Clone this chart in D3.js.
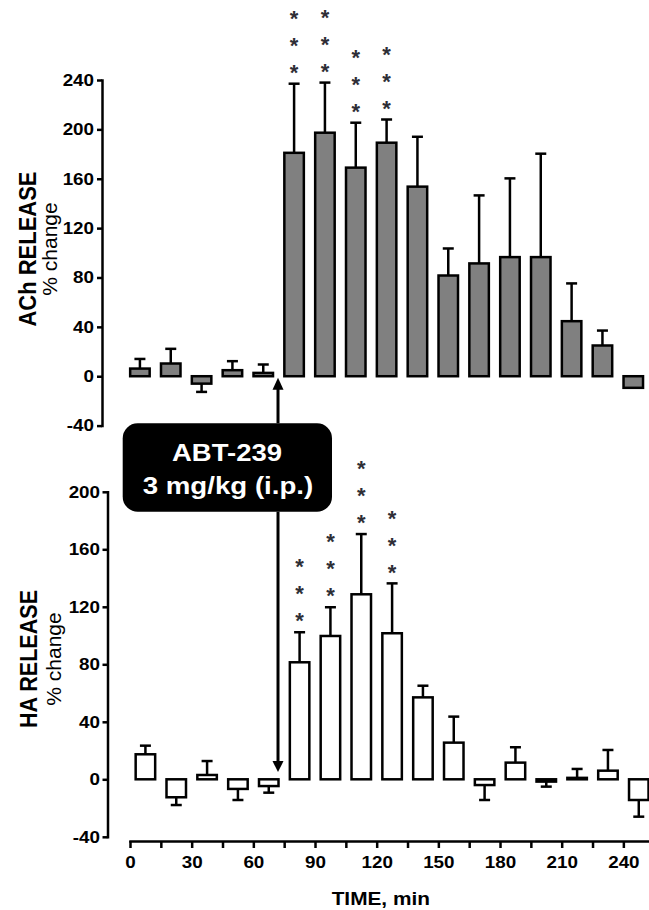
<!DOCTYPE html>
<html>
<head>
<meta charset="utf-8">
<script src="https://cdn.jsdelivr.net/npm/d3@7"></script>
<style>
  body { margin: 0; background: #fff; }
  svg { display: block; font-family: "Liberation Sans", Arial, sans-serif; }
</style>
</head>
<body>
<div id="chart"></div>
<script>

// sample times (min, middle of each 15 min collection)
const times = [7.5, 22.5, 37.5, 52.5, 67.5, 82.5, 97.5, 112.5, 127.5, 142.5, 157.5, 172.5, 187.5, 202.5, 217.5, 232.5, 247.5];

// ACh release, % change (mean, sem, number of stars)
const achMean = [6.2, 10.3, -6, 4.9, 2.7, 181, 197.3, 169, 189.2, 153.6, 81.6, 91.4, 96.5, 96.5, 44.6, 24.9, -9.4];
const achSem = [7.8, 11.9, 6.7, 7.3, 6.8, 56, 40.6, 36.4, 18.8, 40.4, 21.9, 55.1, 63.8, 83.8, 30.6, 12.1, 0];
const achStars = [0, 0, 0, 0, 0, 3, 3, 3, 3, 0, 0, 0, 0, 0, 0, 0, 0];

// HA release, % change
const haMean = [17.4, -12.5, 3, -6.7, -4.7, 81.4, 99.7, 128.7, 101.6, 57, 25.5, -4, 11.6, -1.6, 1, 6, -14.4];
const haSem = [6, 5.4, 9.7, 7.7, 4.6, 20.9, 20, 41.9, 34.7, 8.1, 18.1, 10.4, 10.7, 3.5, 6.2, 14.4, 11.6];
const haStars = [0, 0, 0, 0, 0, 3, 3, 3, 3, 0, 0, 0, 0, 0, 0, 0, 0];

const achTicks = [-40, 0, 40, 80, 120, 160, 200, 240];
const haTicks = [-40, 0, 40, 80, 120, 160, 200];
const timeTicks = d3.range(0, 256, 15);
const timeLabels = [0, 30, 60, 90, 120, 150, 180, 210, 240];

const injectionTime = 72;

const W = 649, H = 910;
const SX = 1.14;   // the figure's text is a bit wide

let svg = d3.select("#chart").append("svg")
    .attr("width", W)
    .attr("height", H);

let xTime = d3.scaleLinear().domain([0, 255]).range([130, 130 + 255 * 61.67 / 30]);

function widen(sel, k) {
    sel.each(function() {
        let w = this.getComputedTextLength();
        d3.select(this).attr("textLength", w * k).attr("lengthAdjust", "spacingAndGlyphs");
    });
}

function fit(sel, len) {
    sel.attr("lengthAdjust", "spacingAndGlyphs").attr("textLength", len);
}

function style_axis(g) {
    g.select(".domain").attr("stroke-width", 2.5).attr("stroke-linecap", "square");
    g.selectAll(".tick line").attr("stroke-width", 2.5);
    g.selectAll(".tick text")
        .attr("font-size", 16.5)
        .attr("font-weight", "bold")
        .attr("fill", "#000");
    widen(g.selectAll(".tick text"), SX);
}

function draw_panel(p) {
    let y = d3.scaleLinear().domain(p.domain).range(p.range);
    let x = d3.scaleLinear().domain(xTime.domain())
        .range(xTime.range().map(v => v + p.shift));

    let ax = svg.append("g")
        .attr("transform", `translate(${p.axisX},0)`)
        .call(d3.axisLeft(y).tickValues(p.ticks).tickSize(5).tickSizeOuter(0).tickPadding(p.pad)
            .tickFormat(d => String(d)));
    style_axis(ax);

    let bw = 19.5;
    let bars = svg.append("g");
    for (let i = 0; i < times.length; i++) {
        let m = p.mean[i], s = p.sem[i];
        let cx = x(times[i]);
        let end = m >= 0 ? m + s : m - s;
        if (s > 0) {
            bars.append("line")
                .attr("x1", cx).attr("x2", cx)
                .attr("y1", y(m)).attr("y2", y(end))
                .attr("stroke", "#000").attr("stroke-width", 2.5);
            bars.append("line")
                .attr("x1", cx - 5.5).attr("x2", cx + 5.5)
                .attr("y1", y(end)).attr("y2", y(end))
                .attr("stroke", "#000").attr("stroke-width", 2.5);
        }
        bars.append("rect")
            .attr("x", cx - bw / 2)
            .attr("y", Math.min(y(m), y(0)))
            .attr("width", bw)
            .attr("height", Math.abs(y(m) - y(0)))
            .attr("fill", p.fill)
            .attr("stroke", "#000")
            .attr("stroke-width", 2.5);

        for (let k = 0; k < p.stars[i]; k++) {
            let sy = y(m + s) - 16.5 - k * 27;
            bars.append("text")
                .attr("x", cx)
                .attr("y", sy + 0.575 * 22)
                .attr("text-anchor", "middle")
                .attr("font-size", 22)
                .attr("font-weight", "bold")
                .attr("fill", "#2e2e36")
                .text("*");
        }
    }

    // y title, two lines
    let t1 = svg.append("text")
        .attr("transform", `translate(${p.titleX[0]},${p.titleY}) rotate(-90)`)
        .attr("text-anchor", "middle")
        .attr("font-size", 23)
        .attr("font-weight", "bold")
        .text(p.title);
    fit(t1, p.titleLen);
    svg.append("text")
        .attr("transform", `translate(${p.titleX[1]},${p.titleY}) rotate(-90)`)
        .attr("text-anchor", "middle")
        .attr("font-size", 21)
        .text("% change");
    return y;
}

let yAch = draw_panel({
    domain: [-40, 240], range: [425.6, 80], ticks: achTicks,
    axisX: 102, shift: -5.5, pad: 3,
    mean: achMean, sem: achSem, stars: achStars, fill: "#808080",
    title: "ACh RELEASE", titleX: [35.5, 56.5], titleY: 249, titleLen: 155
});

let yHa = draw_panel({
    domain: [-40, 200], range: [836.8, 491.8], ticks: haTicks,
    axisX: 107.5, shift: 0, pad: 2.5,
    mean: haMean, sem: haSem, stars: haStars, fill: "#fff",
    title: "HA RELEASE", titleX: [37.3, 60.5], titleY: 659, titleLen: 138
});

// time axis
let xa = svg.append("g")
    .attr("transform", "translate(0,841)")
    .call(d3.axisBottom(xTime).tickValues(timeTicks).tickSize(7).tickSizeOuter(0).tickPadding(8.7)
        .tickFormat(d => timeLabels.includes(d) ? String(d) : ""));
style_axis(xa);

let xt = svg.append("text")
    .attr("x", 380.8)
    .attr("y", 905)
    .attr("text-anchor", "middle")
    .attr("font-size", 18.6)
    .attr("font-weight", "bold")
    .text("TIME, min");
widen(xt, 1.12);

// drug annotation
let ax = xTime(injectionTime);
let box = { x0: 122.7, x1: 332, y0: 423.3, y1: 511.7 };

svg.append("line")
    .attr("x1", ax).attr("x2", ax)
    .attr("y1", box.y0).attr("y2", yAch(-1.3) + 10)
    .attr("stroke", "#000").attr("stroke-width", 3);
svg.append("path")
    .attr("d", `M${ax},${yAch(-1.3)} L${ax - 5.5},${yAch(-1.3) + 12} L${ax + 5.5},${yAch(-1.3) + 12} Z`)
    .attr("fill", "#000");

svg.append("line")
    .attr("x1", ax).attr("x2", ax)
    .attr("y1", box.y1).attr("y2", yHa(5) - 8)
    .attr("stroke", "#000").attr("stroke-width", 3);
svg.append("path")
    .attr("d", `M${ax},${yHa(5)} L${ax - 5.5},${yHa(5) - 11} L${ax + 5.5},${yHa(5) - 11} Z`)
    .attr("fill", "#000");

svg.append("rect")
    .attr("x", box.x0).attr("y", box.y0)
    .attr("width", box.x1 - box.x0).attr("height", box.y1 - box.y0)
    .attr("rx", 15).attr("ry", 15)
    .attr("fill", "#000");

let lab1 = svg.append("text")
    .attr("x", 227).attr("y", 460.7)
    .attr("text-anchor", "middle")
    .attr("font-size", 23.7).attr("font-weight", "bold")
    .attr("fill", "#fff")
    .text("ABT-239");
fit(lab1, 110);
let lab2 = svg.append("text")
    .attr("x", 228).attr("y", 494)
    .attr("text-anchor", "middle")
    .attr("font-size", 23.7).attr("font-weight", "bold")
    .attr("fill", "#fff")
    .text("3 mg/kg (i.p.)");
fit(lab2, 170.6);

</script>
</body>
</html>
